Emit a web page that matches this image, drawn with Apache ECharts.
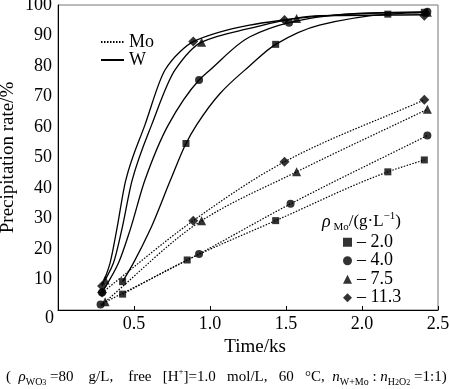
<!DOCTYPE html>
<html><head><meta charset="utf-8">
<script src="https://cdn.jsdelivr.net/npm/echarts@6/dist/echarts.min.js"></script>
<style>html,body{margin:0;padding:0;background:#fff}#c{width:450px;height:389px}</style>
</head><body><div id="c"></div>
<script>
// ---- data ----
const xTicks = [0.5, 1.0, 1.5, 2.0, 2.5];
const yTicks = [10, 20, 30, 40, 50, 60, 70, 80, 90, 100];
const concLabels = ['2.0', '4.0', '7.5', '11.3'];
// W fitted curves
const wCurve20 = [[0.425,9.3],[0.495,15.3],[0.605,26.2],[0.74,42.6],[0.842,54.6],[0.912,60.7],[1.066,71],[1.26,80],[1.432,87.1],[1.72,93.4],[2.17,97],[2.41,97.6]];
const wCurve40 = [[0.29,5.7],[0.397,15.3],[0.474,26.2],[0.572,42.6],[0.726,60.7],[0.928,75.4],[1.0,78.7],[1.26,89.5],[1.52,94.2],[1.75,96.3],[2.0,97.3],[2.43,97.8]];
const wCurve75 = [[0.31,9.8],[0.364,15.3],[0.419,26.2],[0.488,42.6],[0.616,60.7],[0.77,78.7],[0.945,87.8],[1.26,92.3],[1.57,95.6],[2.0,97.2],[2.43,97.6]];
const wCurve113 = [[0.29,7.9],[0.342,15.3],[0.386,26.2],[0.446,42.6],[0.572,60.7],[0.704,78.7],[0.803,84.7],[0.89,88],[1.26,93.4],[1.49,95.1],[1.72,96.5],[2.41,96.8]];
// W measured points
const wPts20 = [[0.425,9.3],[0.842,54.6],[1.432,87.1],[2.17,97],[2.41,97.6]];
const wPts40 = [[0.29,5.7],[0.928,75.4],[1.52,94.2],[2.43,97.8]];
const wPts75 = [[0.31,9.8],[0.945,87.8],[1.57,95.6],[2.43,97.6]];
const wPts113 = [[0.29,7.9],[0.89,88],[1.49,95.1],[2.41,96.5]];
// Mo measured points
const moPts20 = [[0.425,5.2],[0.85,16.4],[1.432,29.3],[2.17,45.3],[2.41,49.2]];
const moPts40 = [[0.28,1.8],[0.928,18.4],[1.53,34.8],[2.43,57.2]];
const moPts75 = [[0.31,2.7],[0.945,29.3],[1.57,45.3],[2.43,65.8]];
const moPts113 = [[0.29,5.7],[0.89,29.3],[1.49,48.6],[2.41,68.9]];

const SERIF = '"Liberation Serif","DejaVu Serif",serif';
const wCurves = [wCurve20, wCurve40, wCurve75, wCurve113];
const wPts = [wPts20, wPts40, wPts75, wPts113];
const moPts = [moPts20, moPts40, moPts75, moPts113];
const symbols = ['rect', 'circle', 'triangle', 'diamond'];
const symSizes = [7, 8, 9, 10];

// monotone (PCHIP) slopes for a smooth curve through the read points
function slopes(p) {
  const n = p.length, h = [], d = [], m = new Array(n).fill(0);
  for (let k = 0; k < n - 1; k++) { h[k] = p[k+1][0] - p[k][0]; d[k] = (p[k+1][1] - p[k][1]) / h[k]; }
  m[0] = d[0]; m[n-1] = d[n-2];
  for (let k = 1; k < n - 1; k++) {
    if (d[k-1] * d[k] <= 0) { m[k] = 0; continue; }
    const w1 = 2 * h[k] + h[k-1], w2 = h[k] + 2 * h[k-1];
    m[k] = (w1 + w2) / (w1 / d[k-1] + w2 / d[k]);
  }
  return m;
}
function curveSeries(points, style) {
  return {
    type: 'custom', coordinateSystem: 'cartesian2d', data: points, z: 2, silent: true,
    encode: { x: 0, y: 1 },
    renderItem: (params, api) => {
      if (params.dataIndex !== 0) return null;
      const m = slopes(points);
      const c0 = api.coord(points[0]);
      let path = 'M' + c0[0] + ' ' + c0[1];
      for (let k = 0; k < points.length - 1; k++) {
        const [x0, y0] = points[k], [x1, y1] = points[k+1], h = x1 - x0;
        const a = api.coord([x0 + h / 3, y0 + m[k] * h / 3]);
        const b = api.coord([x1 - h / 3, y1 - m[k+1] * h / 3]);
        const e = api.coord([x1, y1]);
        path += ' C' + a[0] + ' ' + a[1] + ' ' + b[0] + ' ' + b[1] + ' ' + e[0] + ' ' + e[1];
      }
      return { type: 'path', shape: { pathData: path }, style: Object.assign({ fill: null, stroke: '#000' }, style) };
    }
  };
}

const series = [];
// legend-only entries for line styles
series.push({ name: 'Mo', type: 'line', data: [], symbol: 'none', itemStyle: { color: '#000' }, lineStyle: { color: '#000', width: 1.2, type: [1.5, 1.5] } });
series.push({ name: 'W', type: 'line', data: [], symbol: 'none', itemStyle: { color: '#000' }, lineStyle: { color: '#000', width: 1.3 } });
moPts.forEach(d => series.push(curveSeries(d, { lineWidth: 1.2, lineDash: [1.5, 1.5] })));
wCurves.forEach(d => series.push(curveSeries(d, { lineWidth: 1.3 })));
concLabels.forEach((n, i) => series.push({
  name: n, type: 'scatter', data: wPts[i].concat(moPts[i]), symbol: symbols[i], symbolSize: symSizes[i],
  itemStyle: { color: '#000' }, z: 4
}));

const chart = echarts.init(document.getElementById('c'), null, { renderer: 'canvas' });
chart.setOption({
  animation: false,
  backgroundColor: '#fff',
  grid: { left: 58, right: 12, top: 5, bottom: 79, show: true, borderColor: '#777', borderWidth: 1,
    outerBoundsMode: 'none', containLabel: false },
  xAxis: {
    type: 'value', min: 0, max: 2.5, interval: 0.5,
    name: 'Time/ks', nameLocation: 'middle', nameGap: 28,
    nameTextStyle: { fontFamily: SERIF, fontSize: 19, color: '#000', padding: [0, 0, 0, 14] },
    axisLine: { lineStyle: { color: '#000', width: 1 } },
    axisTick: { inside: true, length: 4, lineStyle: { color: '#000' } },
    axisLabel: { margin: 5, fontFamily: SERIF, fontSize: 18, color: '#000',
      formatter: v => xTicks.some(t => Math.abs(t - v) < 1e-9) ? v.toFixed(1) : '' },
    splitLine: { show: false }
  },
  yAxis: {
    type: 'value', min: 0, max: 100, interval: 10,
    name: 'Precipitation rate/%', nameLocation: 'middle', nameGap: 40, nameMoveOverlap: false,
    nameTextStyle: { fontFamily: SERIF, fontSize: 19, color: '#000' },
    axisLine: { show: true, lineStyle: { color: '#000', width: 1 } },
    axisTick: { show: false },
    axisLabel: { margin: 6, fontFamily: SERIF, fontSize: 18, color: '#000',
      formatter: v => yTicks.indexOf(v) >= 0 ? String(v) : '' },
    splitLine: { show: false }
  },
  legend: [
    { data: ['Mo', 'W'], orient: 'vertical', left: 95, top: 28, itemWidth: 23, itemHeight: 10, itemGap: 0,
      itemStyle: { opacity: 0 },
      textStyle: { fontFamily: SERIF, fontSize: 18, color: '#000', lineHeight: 16 }, selectedMode: false },
    { data: concLabels, orient: 'vertical', left: 338, top: 228, itemWidth: 9, itemHeight: 9, itemGap: 0,
      formatter: n => '– ' + n, textStyle: { fontFamily: SERIF, fontSize: 18, color: '#000', lineHeight: 18.5 }, selectedMode: false }
  ],
  graphic: [
    { type: 'text', left: 45, top: 309, style: { text: '0', font: '18px ' + SERIF, fill: '#000' } },
    { type: 'text', left: 322, top: 211, style: {
      text: '{i|ρ}{s| Mo}{n|/(g·L}{p|−1}{n|)}', fill: '#000',
      rich: {
        i: { fontFamily: SERIF, fontStyle: 'italic', fontSize: 18, verticalAlign: 'middle', lineHeight: 22 },
        s: { fontFamily: SERIF, fontSize: 11, verticalAlign: 'bottom', lineHeight: 22 },
        n: { fontFamily: SERIF, fontSize: 17, verticalAlign: 'middle', lineHeight: 22 },
        p: { fontFamily: SERIF, fontSize: 11, verticalAlign: 'top', lineHeight: 22 }
      } } },
    { type: 'text', left: 6, top: 367, style: {
      text: '{n|(  }{i|ρ}{s|WO}{t|3}{n| =80    g/L,    free   [H}{p|+}{n|]=1.0   mol/L,   60   °C,  }{i|n}{s|W+Mo}{n| : }{i|n}{s|H}{t|2}{s|O}{t|2}{n| =1:1)}',
      fill: '#000',
      rich: {
        n: { fontFamily: SERIF, fontSize: 15, verticalAlign: 'middle', lineHeight: 20 },
        i: { fontFamily: SERIF, fontStyle: 'italic', fontSize: 15, verticalAlign: 'middle', lineHeight: 20 },
        s: { fontFamily: SERIF, fontSize: 10, verticalAlign: 'bottom', lineHeight: 20 },
        t: { fontFamily: SERIF, fontSize: 8, verticalAlign: 'bottom', lineHeight: 18 },
        p: { fontFamily: SERIF, fontSize: 9, verticalAlign: 'top', lineHeight: 20 }
      } } }
  ],
  series: series
});
</script></body></html>
